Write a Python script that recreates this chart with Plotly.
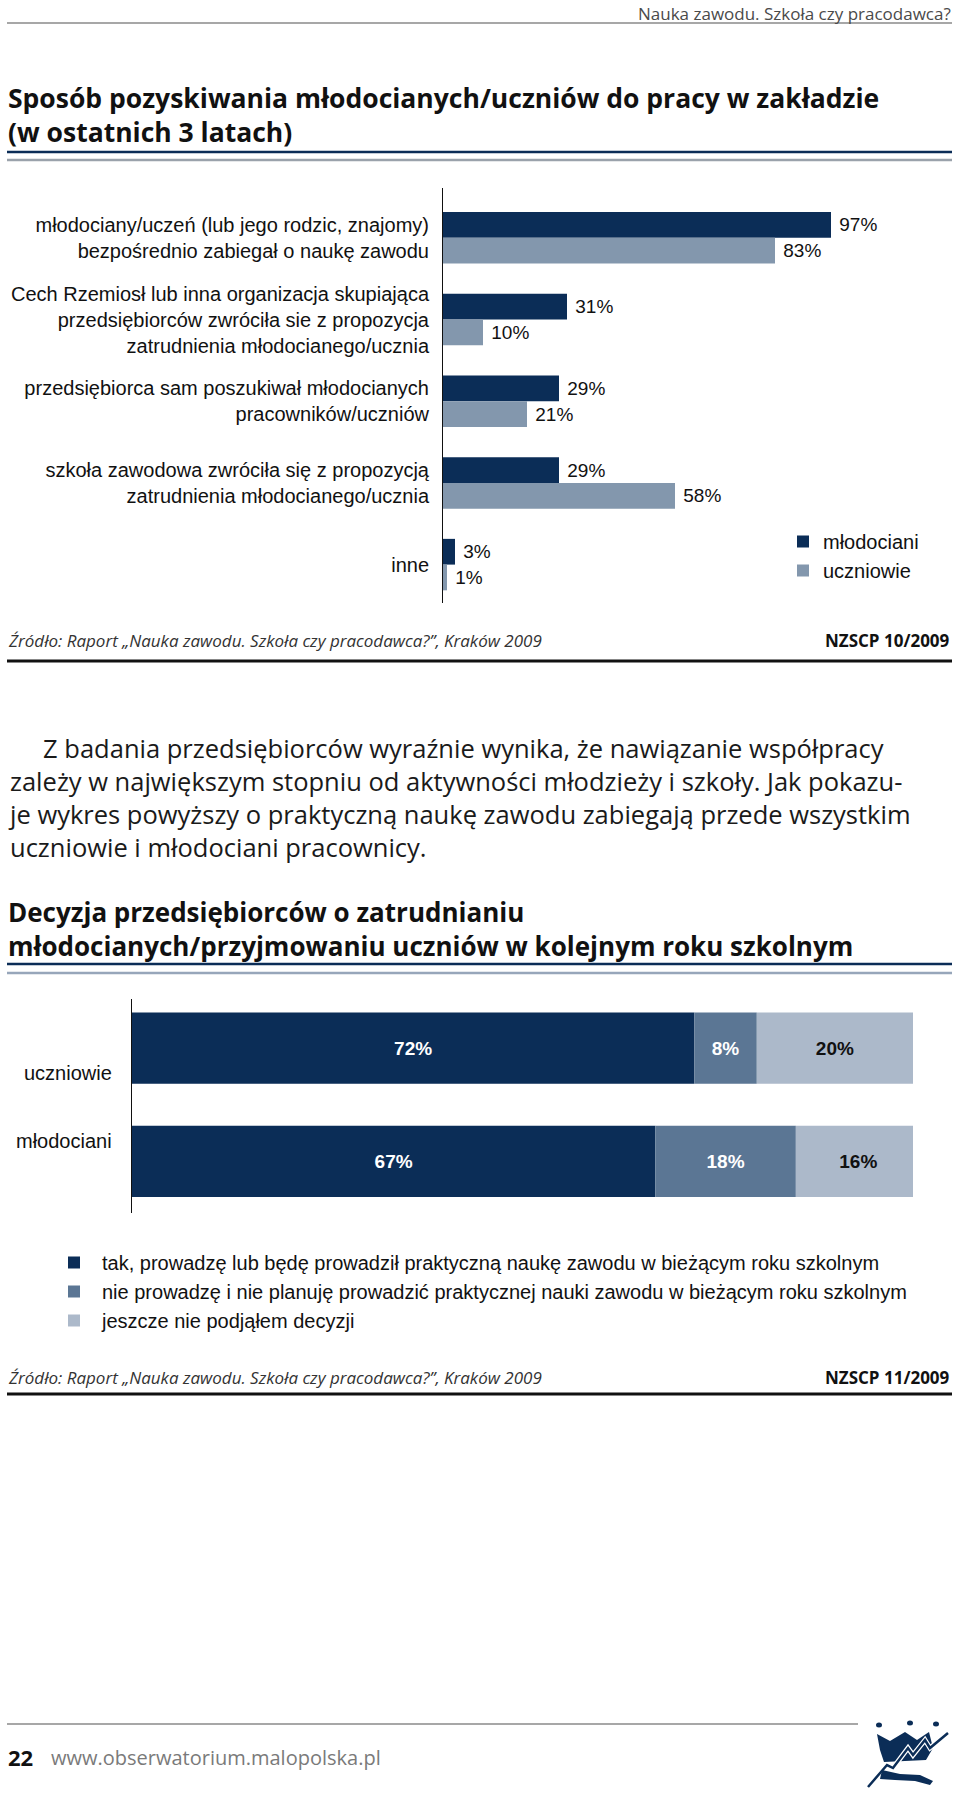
import plotly.graph_objects as go

W, H = 960, 1794


def px(x):
    return x / W


def py(y):
    return 1 - y / H


# ---------------- data ----------------
sources = [
    "młodociany/uczeń (lub jego rodzic, znajomy)<br>bezpośrednio zabiegał o naukę zawodu",
    "Cech Rzemiosł lub inna organizacja skupiająca<br>przedsiębiorców zwróciła sie z propozycja<br>zatrudnienia młodocianego/ucznia",
    "przedsiębiorca sam poszukiwał młodocianych<br>pracowników/uczniów",
    "szkoła zawodowa zwróciła się z propozycją<br>zatrudnienia młodocianego/ucznia",
    "inne",
]
mlodociani = [97, 31, 29, 29, 3]
uczniowie = [83, 10, 21, 58, 1]

groups = ["uczniowie", "młodociani"]
tak = [72, 67]
nie = [8, 18]
jeszcze = [20, 16]
decision_names = [
    "tak, prowadzę lub będę prowadził praktyczną naukę zawodu w bieżącym roku szkolnym",
    "nie prowadzę i nie planuję prowadzić praktycznej nauki zawodu w bieżącym roku szkolnym",
    "jeszcze nie podjąłem decyzji",
]

NAVY = "#0b2d57"
C1_LIGHT = "#8397ad"
C2_MID = "#5b7694"
C2_LIGHT = "#acb9ca"
ARIAL = "Liberation Sans, Arial, sans-serif"
BODY = "Open Sans, Noto Sans, sans-serif"

fig = go.Figure()

# ---------------- chart 1 ----------------
fig.add_trace(go.Bar(
    y=sources, x=mlodociani, orientation="h", name="młodociani",
    marker=dict(color=NAVY, line=dict(width=0)),
    text=["\u00a0" + f"{v}%" for v in mlodociani], textposition="outside",
    textfont=dict(family=ARIAL, size=19, color="#111"),
    constraintext="none", cliponaxis=False,
    xaxis="x", yaxis="y", legend="legend", hoverinfo="skip",
))
fig.add_trace(go.Bar(
    y=sources, x=uczniowie, orientation="h", name="uczniowie",
    marker=dict(color=C1_LIGHT, line=dict(width=0)),
    text=["\u00a0" + f"{v}%" for v in uczniowie], textposition="outside",
    textfont=dict(family=ARIAL, size=19, color="#111"),
    constraintext="none", cliponaxis=False,
    xaxis="x", yaxis="y", legend="legend", hoverinfo="skip",
))

# ---------------- chart 2 (stacked via base) ----------------
base_nie = [a for a in tak]
base_jeszcze = [a + b for a, b in zip(tak, nie)]
for vals, base, color, tcolor, name in [
    (tak, None, NAVY, "white", decision_names[0]),
    (nie, base_nie, C2_MID, "white", decision_names[1]),
    (jeszcze, base_jeszcze, C2_LIGHT, "#111", decision_names[2]),
]:
    fig.add_trace(go.Bar(
        y=groups, x=vals, base=base, orientation="h", name=name,
        marker=dict(color=color, line=dict(width=0)),
        text=[f"{v}%" for v in vals], texttemplate="%{text}",
        textposition="inside", insidetextanchor="middle",
        textfont=dict(family=ARIAL, size=19, color=tcolor, weight="bold"),
        constraintext="none", offsetgroup="stack",
        xaxis="x2", yaxis="y2", legend="legend2", hoverinfo="skip",
    ))

# ---------------- annotations ----------------
ann = []


def text(x, y, s, size, color="#111", family=BODY, xanchor="left", bold=False, italic=False):
    if bold:
        s = "<b>" + s + "</b>"
    if italic:
        s = "<i>" + s + "</i>"
    ann.append(dict(x=px(x), y=py(y), xref="paper", yref="paper", text=s, showarrow=False,
                    xanchor=xanchor, yanchor="middle", align=xanchor if xanchor != "middle" else "center",
                    font=dict(family=family, size=size, color=color)))


text(953, 13, "Nauka zawodu. Szkoła czy pracodawca?", 17, color="#4a4a4a", xanchor="right")
text(6, 115, "<b>Sposób pozyskiwania młodocianych/uczniów do pracy w zakładzie</b><br>"
             "<b>(w ostatnich 3 latach)</b>", 26.5)

src = "Źródło: Raport „Nauka zawodu. Szkoła czy pracodawca?”, Kraków 2009"
text(6, 640, src, 17, color="#333", italic=True)
text(952, 640, "NZSCP 10/2009", 17, bold=True, xanchor="right")

para = [
    "\u00a0\u00a0\u00a0\u00a0\u00a0Z badania przedsiębiorców wyraźnie wynika, że nawiązanie współpracy",
    "zależy w największym stopniu od aktywności młodzieży i szkoły. Jak pokazu-",
    "je wykres powyższy o praktyczną naukę zawodu zabiegają przede wszystkim",
    "uczniowie i młodociani pracownicy.",
]
text(6, 798, "<br>".join(para), 25.5, color="#1a1a1a")

text(6, 929, "<b>Decyzja przedsiębiorców o zatrudnianiu</b><br>"
             "<b>młodocianych/przyjmowaniu uczniów w kolejnym roku szkolnym</b>", 26)

# chart 2 category labels
for g, shift in zip(groups, [-25, 20]):
    ann.append(dict(x=px(114), y=g, xref="paper", yref="y2", text=g, showarrow=False,
                    xanchor="right", yanchor="middle", yshift=shift,
                    font=dict(family=ARIAL, size=20, color="#111")))

text(6, 1377, src, 17, color="#333", italic=True)
text(952, 1377, "NZSCP 11/2009", 17, bold=True, xanchor="right")

text(6, 1757, "22", 22, bold=True)
text(49, 1757, "www.obserwatorium.malopolska.pl", 20, color="#7a7a7a")

# ---------------- decorative shapes ----------------
shapes = []


def hline(y, x0, x1, color, width):
    shapes.append(dict(type="line", xref="paper", yref="paper", x0=px(x0), x1=px(x1),
                       y0=py(y), y1=py(y), line=dict(color=color, width=width)))


hline(23, 7, 952, "#8a8a8a", 1.5)
hline(152, 7, 952, NAVY, 2.5)
hline(160, 7, 952, "#9aa2ab", 2.5)
hline(661, 7, 952, "#111", 3)
hline(964, 7, 952, NAVY, 2.5)
hline(973, 7, 952, "#97a6ba", 2.5)
hline(1394, 7, 952, "#111", 3)
hline(1724, 7, 858, "#8a8a8a", 1.5)


def path(points, close=True):
    s = "M " + " L ".join(f"{px(x):.5f},{py(y):.5f}" for x, y in points)
    return s + (" Z" if close else "")


# logo (rough)
for cx, cy in [(879, 1725), (910, 1723), (936, 1724)]:
    shapes.append(dict(type="circle", xref="paper", yref="paper",
                       x0=px(cx - 3), x1=px(cx + 3), y0=py(cy + 2.5), y1=py(cy - 2.5),
                       fillcolor=NAVY, line=dict(width=0)))
crown = [(877, 1734), (890, 1741), (905, 1732), (917, 1740), (929, 1732), (933, 1748),
         (926, 1760), (884, 1762), (880, 1750)]
shapes.append(dict(type="path", xref="paper", yref="paper", path=path(crown),
                   fillcolor=NAVY, line=dict(width=0)))
zig = [(868, 1787), (887, 1765), (893, 1768), (908, 1748), (913, 1755), (925, 1740),
       (930, 1748), (948, 1733)]
shapes.append(dict(type="path", xref="paper", yref="paper", path=path(zig, close=False),
                   line=dict(color="white", width=5)))
shapes.append(dict(type="path", xref="paper", yref="paper", path=path(zig, close=False),
                   line=dict(color=NAVY, width=2.5)))
swoosh = [(882, 1770), (900, 1774), (920, 1775), (933, 1781), (930, 1785), (915, 1781),
          (895, 1780), (880, 1779)]
shapes.append(dict(type="path", xref="paper", yref="paper", path=path(swoosh),
                   fillcolor=NAVY, line=dict(width=0)))

# ---------------- layout ----------------
fig.update_layout(
    width=W, height=H, autosize=False,
    margin=dict(l=0, r=0, t=0, b=0, pad=0),
    paper_bgcolor="white", plot_bgcolor="white",
    barmode="group", bargap=0.37, bargroupgap=0,
    showlegend=True,
    xaxis=dict(domain=[px(443), px(843)], range=[0, 100], visible=False, anchor="y",
               fixedrange=True),
    yaxis=dict(domain=[py(603), py(188)], type="category", categoryorder="array",
               categoryarray=sources, range=[4.47, -0.61], showline=True, linecolor="#111",
               linewidth=1, ticks="", showgrid=False, zeroline=False, anchor="x",
               tickfont=dict(family=ARIAL, size=20, color="#111"), ticklabelstandoff=9,
               fixedrange=True),
    xaxis2=dict(domain=[px(132), px(913)], range=[0, 100], visible=False, anchor="y2",
                fixedrange=True),
    yaxis2=dict(domain=[py(1213), py(999)], type="category", categoryorder="array",
                categoryarray=groups, range=[1.456, -0.434], showline=True, linecolor="#111",
                linewidth=1, ticks="", showticklabels=False, showgrid=False, zeroline=False,
                anchor="x2", fixedrange=True),
    legend=dict(x=px(783), y=py(522), xanchor="left", yanchor="top", orientation="v",
                font=dict(family=ARIAL, size=20, color="#111"), bgcolor="rgba(0,0,0,0)",
                tracegroupgap=0, itemwidth=30, traceorder="normal"),
    legend2=dict(x=px(46), y=py(1243), xanchor="left", yanchor="top", orientation="v",
                 font=dict(family=ARIAL, size=20, color="#111"), bgcolor="rgba(0,0,0,0)",
                 tracegroupgap=0, itemwidth=46, traceorder="normal"),
    annotations=ann,
    shapes=shapes,
    font=dict(family=ARIAL),
)

fig.write_html(
    "out.html",
    config={"displayModeBar": False},
    post_script="document.body.style.margin='0';document.body.style.overflow='hidden';"
                "document.documentElement.style.overflow='hidden';",
)
